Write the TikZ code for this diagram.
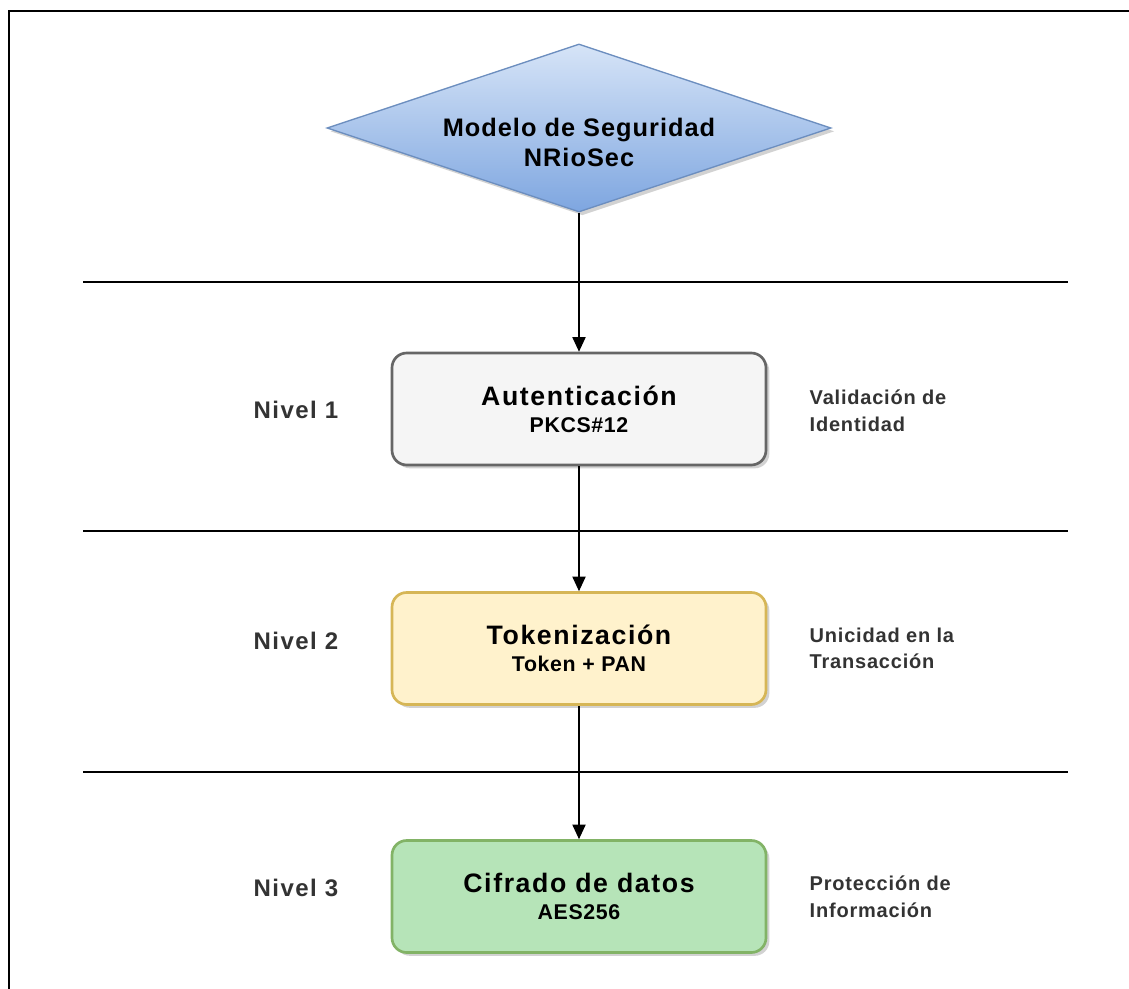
\documentclass[tikz,border=0pt]{standalone}
\usepackage{fontspec}
\setmainfont{Liberation Sans}
\usetikzlibrary{shapes.geometric,arrows.meta,shadows}

\definecolor{diamondtop}{HTML}{D6E4F7}
\definecolor{diamondbot}{HTML}{7EA6E0}
\definecolor{diamondline}{HTML}{6C8EBF}
\definecolor{grayfill}{HTML}{F5F5F5}
\definecolor{grayline}{HTML}{666666}
\definecolor{yellowfill}{HTML}{FFF2CC}
\definecolor{yellowline}{HTML}{D6B656}
\definecolor{greenfill}{HTML}{B6E4B8}
\definecolor{greenline}{HTML}{82B366}
\definecolor{labeltext}{HTML}{333333}

\tikzset{
  levelbox/.style={rectangle, rounded corners=11pt, line width=2pt,
    minimum width=280.5pt, minimum height=84pt, align=center,
    drop shadow={shadow xshift=2.5pt, shadow yshift=-2.5pt, opacity=0.35, fill=gray}},
  nivel/.style={text=labeltext, font=\bfseries\fontsize{18}{20}\selectfont\addfontfeature{LetterSpace=6}},
  sidenote/.style={anchor=west, align=left, text=labeltext,
    font=\bfseries\fontsize{15}{20}\selectfont\addfontfeature{LetterSpace=4}},
  sepline/.style={line width=2.2pt},
  flow/.style={-{Triangle[width=10pt,length=11pt]}, line width=0.9pt}
}

\newcommand{\boxtitle}[2]{{\fontsize{20}{22}\selectfont\addfontfeature{LetterSpace=6}#1}\\[8pt]{\fontsize{16}{17}\selectfont\addfontfeature{LetterSpace=3}#2}}

\begin{document}
\begin{tikzpicture}[x=0.75pt,y=-0.75pt,font=\bfseries]
  \useasboundingbox (0,0) rectangle (1129,989);
  \fill[white] (0,0) rectangle (1129,989);

  % frame
  \draw[line width=1.8pt] (9,989) -- (9,11) -- (1129,11);

  % separators
  \draw[sepline] (83,282) -- (1068,282);
  \draw[sepline] (83,531) -- (1068,531);
  \draw[sepline] (83,772) -- (1068,772);

  % model
  \node[diamond, aspect=3, draw=diamondline, line width=1pt, top color=diamondtop, bottom color=diamondbot,
    minimum width=378pt, minimum height=126pt, inner sep=0pt,
    drop shadow={shadow xshift=2.5pt, shadow yshift=-2.5pt, opacity=0.35, fill=gray}]
    (modelo) at (579,128) {};
  \node[align=center, font=\bfseries\fontsize{19}{22.5}\selectfont\addfontfeature{LetterSpace=4}]
    (modelotxt) at (579,142) {Modelo de Seguridad\\NRioSec};

  % levels
  \node[levelbox, draw=grayline, fill=grayfill] (auten) at (579,409)
    {\boxtitle{Autenticación}{PKCS\#12}};
  \node[levelbox, draw=yellowline, fill=yellowfill] (token) at (579,648.5)
    {\boxtitle{Tokenización}{Token + PAN}};
  \node[levelbox, draw=greenline, fill=greenfill] (cifra) at (579,896.5)
    {\boxtitle{Cifrado de datos}{AES256}};

  \draw[flow] (modelo) -- (auten);
  \draw[flow] (auten) -- (token);
  \draw[flow] (token) -- (cifra);

  \node[nivel] (niv1) at (296,410) {Nivel 1};
  \node[nivel] (niv2) at (296,641) {Nivel 2};
  \node[nivel] (niv3) at (296,888) {Nivel 3};

  \node[sidenote] (nota1) at (805,410.5) {Validación de\\Identidad};
  \node[sidenote] (nota2) at (805,648.5) {Unicidad en la\\Transacción};
  \node[sidenote] (nota3) at (805,896.5) {Protección de\\Información};
\end{tikzpicture}
\end{document}
